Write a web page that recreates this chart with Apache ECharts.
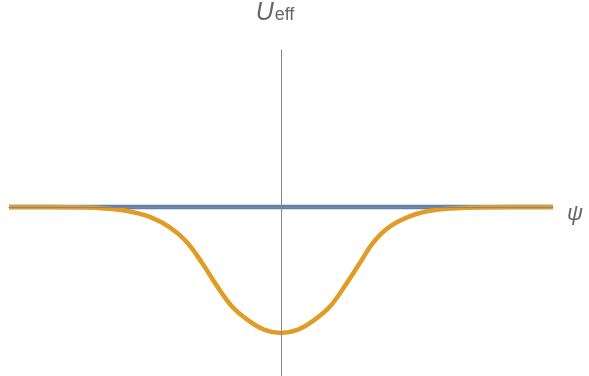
<!DOCTYPE html>
<html>
<head>
<meta charset="utf-8">
<script src="https://cdn.jsdelivr.net/npm/echarts@6/dist/echarts.min.js"></script>
<style>
  html, body { margin: 0; padding: 0; background: #fff; }
</style>
</head>
<body>
<div id="chart" style="width: 589px; height: 376px;"></div>
<script>
// flat (blue) curve
const psiFlat = [-5, 5];
const uFlat = [0, 0];

// well (orange) curve
const psiWell = [-5, -3.9, -3.3, -2.8, -2.4, -2.05, -1.75, -1.45, -1.2, -0.9, -0.6, -0.3,
  0, 0.3, 0.6, 0.9, 1.2, 1.45, 1.7, 2.0, 2.4, 2.8, 3.3, 3.9, 5];
const uWell = [0, -0.002, -0.009, -0.033, -0.08, -0.16, -0.27, -0.444, -0.612, -0.79, -0.90, -0.975,
  -1.0, -0.975, -0.90, -0.79, -0.61, -0.444, -0.28, -0.156, -0.068, -0.026, -0.008, -0.002, 0];

const myChart = echarts.init(document.getElementById('chart'));

const option = {
  animation: false,
  grid: { left: 9, right: 36, top: 50, bottom: 0 },
  xAxis: {
    type: 'value',
    min: -5,
    max: 5,
    z: 10,
    axisLine: { lineStyle: { color: '#888', width: 1 } },
    axisTick: { show: false },
    axisLabel: { show: false },
    splitLine: { show: false },
    name: 'ψ',
    nameLocation: 'end',
    nameGap: 14,
    nameTextStyle: {
      color: '#666',
      fontFamily: 'Liberation Sans',
      fontStyle: 'italic',
      fontSize: 22,
      verticalAlign: 'top',
      lineHeight: 14
    }
  },
  yAxis: {
    type: 'value',
    min: -1.341,
    max: 1.246,
    z: 10,
    axisLine: { lineStyle: { color: '#888', width: 1 } },
    axisTick: { show: false },
    axisLabel: { show: false },
    splitLine: { show: false },
    name: '{u|U}{s|eff}',
    nameLocation: 'end',
    nameGap: 24,
    nameTextStyle: {
      color: '#666',
      fontFamily: 'Liberation Sans',
      padding: [0, 0, 0, -12],
      rich: {
        u: { fontSize: 25, fontStyle: 'italic', color: '#666', fontFamily: 'Liberation Sans' },
        s: { fontSize: 18, color: '#666', fontFamily: 'Liberation Sans', padding: [0, 0, -3, 1] }
      }
    }
  },
  series: [
    {
      type: 'line',
      data: psiFlat.map((x, i) => [x, uFlat[i]]),
      showSymbol: false,
      lineStyle: { color: '#5e81b5', width: 4.5 }
    },
    {
      type: 'line',
      data: psiWell.map((x, i) => [x, uWell[i]]),
      showSymbol: false,
      smooth: 0.4,
      lineStyle: { color: '#e19c24', width: 4.5 }
    }
  ]
};

myChart.setOption(option);
</script>
</body>
</html>
